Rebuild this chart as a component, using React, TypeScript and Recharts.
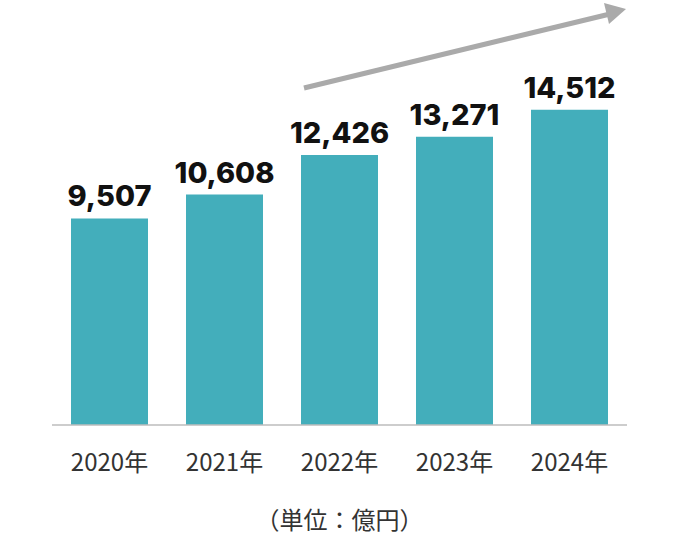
import React from 'react';
import { BarChart, Bar, XAxis, YAxis, LabelList } from 'recharts';

const years = ['2020年', '2021年', '2022年', '2023年', '2024年'];
const sales = [9507, 10608, 12426, 13271, 14512];

const data = years.map((year, i) => ({ year, sales: sales[i] }));

const fmt = (v: any) => Number(v).toLocaleString('en-US');

const App = () => {
  return (
    <div style={{ position: 'absolute', left: 0, top: 0, width: 679, height: 541, background: '#fff' }}>
      <BarChart
        width={679}
        height={541}
        data={data}
        margin={{ top: 60, right: 52, left: 52, bottom: 86 }}
        barCategoryGap={19}
      >
        <XAxis
          dataKey="year"
          tickLine={false}
          axisLine={{ stroke: '#bdbdbd', strokeWidth: 1.5 }}
          tickMargin={23}
          tick={{ fill: '#333', fontSize: 24, fontFamily: '"Noto Sans CJK JP", sans-serif' }}
        />
        <YAxis hide domain={[0, 16800]} />
        <Bar dataKey="sales" fill="#43aebb" isAnimationActive={false}>
          <LabelList
            dataKey="sales"
            position="top"
            offset={12}
            formatter={fmt}
            style={{ fill: '#111', fontSize: 29, fontWeight: 800, fontFamily: 'Inter, sans-serif' }}
          />
        </Bar>
      </BarChart>
      <svg width={679} height={541} style={{ position: 'absolute', left: 0, top: 0, pointerEvents: 'none' }}>
        <line x1={304} y1={88} x2={610} y2={14} stroke="#aaaaaa" strokeWidth={5} />
        <polygon points="626,9 604,3 609,24" fill="#aaaaaa" />
      </svg>
      <div
        style={{
          position: 'absolute',
          left: 0,
          width: 679,
          top: 503,
          textAlign: 'center',
          fontSize: 24,
          color: '#333',
          fontFamily: '"Noto Sans CJK JP", sans-serif',
          lineHeight: '32px',
        }}
      >
        （単位：億円）
      </div>
    </div>
  );
};

export default App;
